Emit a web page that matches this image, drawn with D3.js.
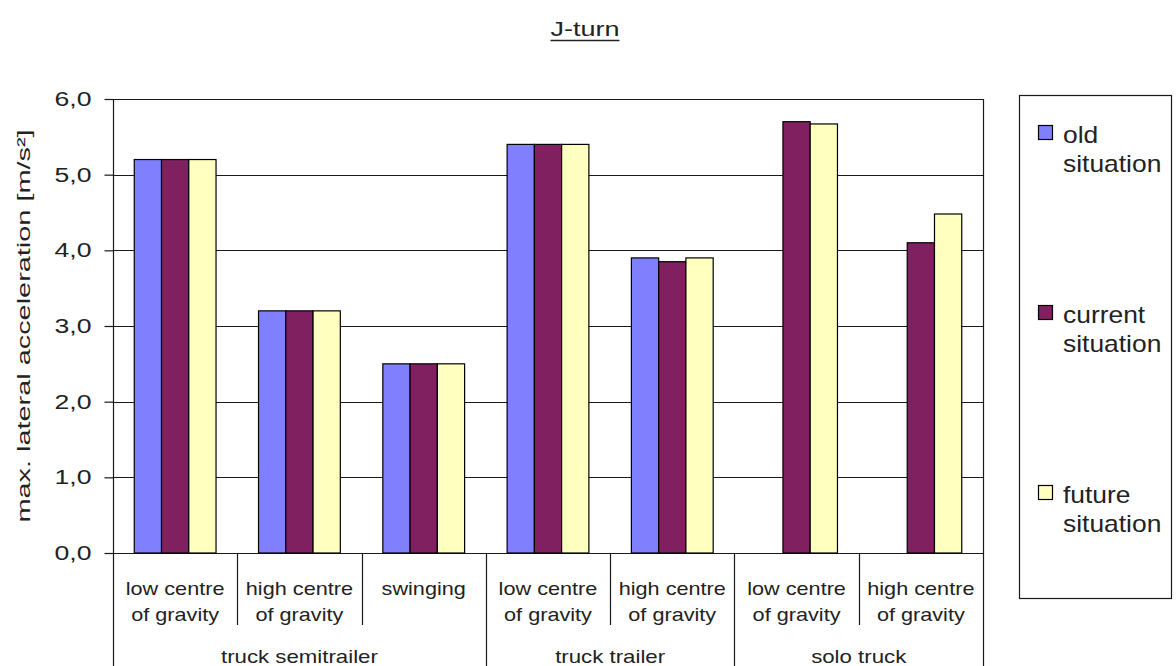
<!DOCTYPE html>
<html>
<head>
<meta charset="utf-8">
<script src="https://cdn.jsdelivr.net/npm/d3@7"></script>
<style>
  html, body { margin: 0; padding: 0; background: #fff; }
  svg { display: block; font-family: "Liberation Sans", Arial, sans-serif; }
</style>
</head>
<body>
<svg id="chart" width="1176" height="666"></svg>
<script>
// ---- data ----
const groups = ["truck semitrailer", "truck trailer", "solo truck"];
const groupSizes = [3, 2, 2];
const categories = [
  ["low centre", "of gravity"],
  ["high centre", "of gravity"],
  ["swinging"],
  ["low centre", "of gravity"],
  ["high centre", "of gravity"],
  ["low centre", "of gravity"],
  ["high centre", "of gravity"]
];
const seriesNames = [["old", "situation"], ["current", "situation"], ["future", "situation"]];
const oldSituation     = [5.2, 3.2, 2.5, 5.4, 3.9, null, null];
const currentSituation = [5.2, 3.2, 2.5, 5.4, 3.85, 5.7, 4.1];
const futureSituation  = [5.2, 3.2, 2.5, 5.4, 3.9, 5.67, 4.48];
const yTicks = [0, 1, 2, 3, 4, 5, 6];
const yTickLabels = ["0,0", "1,0", "2,0", "3,0", "4,0", "5,0", "6,0"];
const colors = ["#8080ff", "#802060", "#ffffc0"];

const series = [oldSituation, currentSituation, futureSituation];

// ---- layout ----
const svg = d3.select("#chart");
const plot = { left: 113, right: 983, top: 99, bottom: 553 };

const x0 = d3.scaleBand()
  .domain(d3.range(categories.length))
  .range([plot.left, plot.right])
  .padding(0);
const bw = x0.bandwidth();
const x1 = d3.scaleBand()
  .domain(d3.range(series.length))
  .range([bw * 0.171, bw * 0.829])
  .padding(0);
const y = d3.scaleLinear().domain([0, 6]).range([plot.bottom, plot.top]);

// stretch text horizontally, like the wide bitmap lettering of the chart
function stretch(sel, k) {
  sel.each(function () {
    const w = this.getComputedTextLength();
    d3.select(this).attr("textLength", w * k).attr("lengthAdjust", "spacingAndGlyphs");
  });
}

// gridlines
svg.append("g")
  .selectAll("line")
  .data(yTicks)
  .join("line")
  .attr("x1", plot.left).attr("x2", plot.right)
  .attr("y1", d => Math.round(y(d)) + 0.5).attr("y2", d => Math.round(y(d)) + 0.5)
  .attr("stroke", "#1a1a1a").attr("stroke-width", 1.2);

// right border of plot area
svg.append("line")
  .attr("x1", plot.right + 0.5).attr("x2", plot.right + 0.5)
  .attr("y1", plot.top).attr("y2", plot.bottom)
  .attr("stroke", "#1a1a1a").attr("stroke-width", 1.2);

// bars
const barData = [];
series.forEach((vals, s) => vals.forEach((v, c) => {
  if (v !== null) barData.push({ s, c, v });
}));
svg.append("g")
  .selectAll("rect")
  .data(barData)
  .join("rect")
  .attr("x", d => x0(d.c) + x1(d.s))
  .attr("y", d => y(d.v))
  .attr("width", x1.bandwidth())
  .attr("height", d => y(0) - y(d.v))
  .attr("fill", d => colors[d.s])
  .attr("stroke", "#000").attr("stroke-width", 1.2);

// y axis
const yAxis = d3.axisLeft(y)
  .tickValues(yTicks)
  .tickFormat((d, i) => yTickLabels[i])
  .tickSize(9)
  .tickPadding(13);
const yg = svg.append("g")
  .attr("transform", `translate(${plot.left + 0.5},0)`)
  .call(yAxis);
yg.select(".domain").remove();
yg.selectAll(".tick line").attr("stroke", "#1a1a1a").attr("stroke-width", 1.2);
yg.selectAll(".tick text")
  .attr("font-size", 20)
  .attr("font-family", "Liberation Sans, Arial, sans-serif")
  .attr("fill", "#222")
  .call(stretch, 1.33);
svg.append("line")
  .attr("x1", plot.left + 0.5).attr("x2", plot.left + 0.5)
  .attr("y1", plot.top).attr("y2", 666)
  .attr("stroke", "#1a1a1a").attr("stroke-width", 1.2);

// y axis title
svg.append("text")
  .attr("transform", `translate(30,${(plot.top + plot.bottom) / 2}) rotate(-90)`)
  .attr("text-anchor", "middle")
  .attr("font-size", 19)
  .attr("fill", "#222")
  .text("max. lateral acceleration [m/s²]")
  .call(stretch, 1.52);

// category separators and labels
const groupStarts = [];
let acc = 0;
groupSizes.forEach(n => { groupStarts.push(acc); acc += n; });
const sepG = svg.append("g");
d3.range(1, categories.length).forEach(i => {
  const isGroupEdge = groupStarts.includes(i);
  sepG.append("line")
    .attr("x1", Math.round(x0(i)) + 0.5).attr("x2", Math.round(x0(i)) + 0.5)
    .attr("y1", plot.bottom).attr("y2", isGroupEdge ? 666 : 625)
    .attr("stroke", "#1a1a1a").attr("stroke-width", 1.2);
});
sepG.append("line")
  .attr("x1", plot.right + 0.5).attr("x2", plot.right + 0.5)
  .attr("y1", plot.bottom).attr("y2", 666)
  .attr("stroke", "#1a1a1a").attr("stroke-width", 1.2);

const catG = svg.append("g");
categories.forEach((lines, i) => {
  lines.forEach((t, j) => {
    catG.append("text")
      .attr("x", x0(i) + bw / 2)
      .attr("y", 595 + j * 26)
      .attr("text-anchor", "middle")
      .attr("font-size", 19)
      .attr("fill", "#222")
      .text(t)
      .call(stretch, 1.14);
  });
});
groups.forEach((g, gi) => {
  const a = x0(groupStarts[gi]);
  const b = x0(groupStarts[gi] + groupSizes[gi] - 1) + bw;
  catG.append("text")
    .attr("x", (a + b) / 2)
    .attr("y", 663)
    .attr("text-anchor", "middle")
    .attr("font-size", 19)
    .attr("fill", "#222")
    .text(g)
    .call(stretch, 1.17);
});

// title
const title = svg.append("text")
  .attr("x", 585).attr("y", 36)
  .attr("text-anchor", "middle")
  .attr("font-size", 20)
  .attr("fill", "#222")
  .text("J-turn")
  .call(stretch, 1.35);
const tl = +title.attr("textLength");
svg.append("line")
  .attr("x1", 585 - tl / 2).attr("x2", 585 + tl / 2)
  .attr("y1", 40.5).attr("y2", 40.5)
  .attr("stroke", "#222").attr("stroke-width", 1.5);

// legend
svg.append("rect")
  .attr("x", 1019.5).attr("y", 95.5)
  .attr("width", 152).attr("height", 503)
  .attr("fill", "#fff").attr("stroke", "#1a1a1a").attr("stroke-width", 1.2);
const lg = svg.append("g");
seriesNames.forEach((lines, s) => {
  const top = 125 + s * 180;
  lg.append("rect")
    .attr("x", 1038.5).attr("y", top + 0.5)
    .attr("width", 14).attr("height", 14)
    .attr("fill", colors[s]).attr("stroke", "#000").attr("stroke-width", 1.2);
  lines.forEach((t, j) => {
    lg.append("text")
      .attr("x", 1063).attr("y", top + 18 + j * 29)
      .attr("font-size", 24)
      .attr("fill", "#222")
      .text(t)
      .call(stretch, 1.1);
  });
});
</script>
</body>
</html>
